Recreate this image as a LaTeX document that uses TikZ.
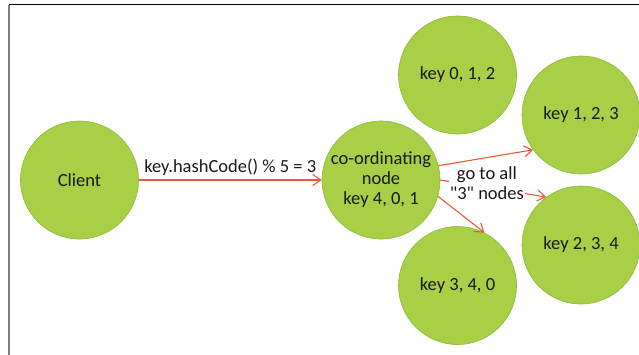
\documentclass[tikz,border=0pt]{standalone}
\usepackage{fontspec}
\setmainfont{Carlito}[Ligatures=TeXOff]
\usetikzlibrary{arrows.meta}
\definecolor{leaf}{RGB}{168,207,69}
\definecolor{leafline}{RGB}{140,186,60}
\definecolor{arrowred}{RGB}{238,88,58}
\begin{document}
\begin{tikzpicture}[x=1pt, y=-1pt,
        ring/.style={circle, fill=leaf, draw=leafline, line width=0.6pt, minimum size=118pt, inner sep=0pt, align=center, text=black!90, font=\fontsize{18.5}{20}\selectfont},
        lbl/.style={text=black!90, align=center, font=\fontsize{18.5}{20}\selectfont},
        arr/.style={arrowred, line width=1.1pt, -{Straight Barb[length=8pt, width=11pt, line width=1.1pt]}}]
        \useasboundingbox (0,0) rectangle (639,354);
        \draw[black, line width=0.9pt] (9,4.5) -- (640,4.5);
        \draw[gray, line width=1.3pt] (9,4.5) -- (9,355);
        \node[ring] (client) at (79.5,180) {Client};
        \node[ring] (coord) at (381,180) {co-ordinating\\node\\key 4, 0, 1};
        \node[ring] (k012) at (457.5,75) {key 0, 1, 2};
        \node[ring] (k123) at (581,115) {key 1, 2, 3};
        \node[ring] (k234) at (581,245) {key 2, 3, 4};
        \node[ring] (k340) at (457.5,285.5) {key 3, 4, 0};
        \draw[arr] (client) -- (coord) node[midway, above=1pt, lbl] (hash) {key.hashCode() \% 5 = 3};
        \draw[arr] (coord.14) -- (k123.216);
        \draw[arr] (coord.0) -- (k234.126) node[pos=0.44, yshift=4pt, fill=white, inner sep=1pt, lbl] (all) {go to all\\"3" nodes};
        \draw[arr] (coord.-16) -- (k340.63);
\end{tikzpicture}
\end{document}
